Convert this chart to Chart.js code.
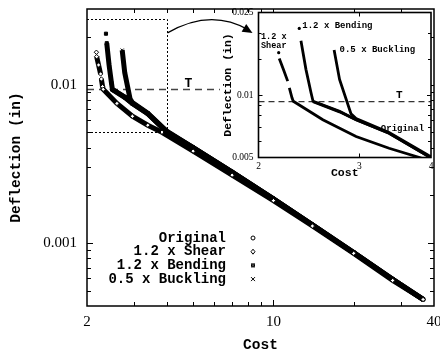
<!DOCTYPE html>
<html><head><meta charset="utf-8">
<script src="https://cdn.jsdelivr.net/npm/chart.js@4.4.1/dist/chart.umd.min.js"></script>
<style>
html,body{margin:0;padding:0;background:#fff;}
#wrap{position:relative;width:440px;height:354px;overflow:hidden;}
#main{position:absolute;left:0;top:0;}
#inset{position:absolute;left:214px;top:0;}
</style></head><body>
<div id="wrap"><canvas id="main" width="440" height="354"></canvas><canvas id="inset" width="222" height="185"></canvas></div>
<script>
// ---- data ----
const seriesLabels = ['Original', '1.2 x Shear', '1.2 x Bending', '0.5 x Buckling'];
const seriesStyles = ['circle', 'rectRot', 'rect', 'crossRot'];

const originalCost = [2.49, 2.77, 2.96, 3.38, 3.97, 5.0, 7.0, 10, 14, 20, 28, 36.4];
const originalDefl = [0.0093, 0.0083, 0.0076, 0.00655, 0.00505, 0.0040, 0.0028, 0.0019, 0.0013, 0.00087, 0.00059, 0.00044];

const shearCost = [2.169, 2.172, 2.174, 2.21, 2.249, 2.256, 2.264, 2.288, 2.300, 2.59, 2.96, 3.38, 3.82, 5.0, 7.0, 10, 14, 20, 28, 36.4];
const shearDefl = [0.0160, null, 0.0150, 0.0133, 0.01167, null, 0.01084, 0.0097, 0.00933, 0.0076, 0.00631, 0.00554, 0.0050, 0.0038, 0.00268, 0.00185, 0.00128, 0.00086, 0.00058, 0.00044];

const bendingCost = [2.356, 2.364, 2.372, 2.42, 2.47, 2.49, 2.77, 2.96, 3.38, 3.97, 5.0, 7.0, 10, 14, 20, 28, 36.4];
const bendingDefl = [0.02095, null, 0.01825, 0.0133, 0.01025, 0.00933, 0.00834, 0.0076, 0.00655, 0.00505, 0.0040, 0.0028, 0.0019, 0.0013, 0.00087, 0.00059, 0.00044];

const bucklingCost = [2.71, 2.77, 2.90, 2.96, 3.38, 3.97, 5.0, 7.0, 10, 14, 20, 28, 36.4];
const bucklingDefl = [0.0165, 0.0119, 0.00813, 0.0077, 0.0066, 0.0051, 0.0040, 0.0028, 0.0019, 0.0013, 0.00087, 0.00059, 0.00044];

const targetDefl = 0.0093;
const mainTCost = [2, 6.3];
const insetTCost = [2, 4];
const zoomBoxCost = [2, 4];
const zoomBoxDefl = [0.005, 0.026];

const mainXTicks = [2, 3, 4, 5, 6, 7, 8, 9, 10, 20, 30, 40];
const mainYTicks = [0.0004, 0.0005, 0.0006, 0.0007, 0.0008, 0.0009, 0.001, 0.002, 0.003, 0.004, 0.005, 0.006, 0.007, 0.008, 0.009, 0.01, 0.02, 0.03];
const mainXLabels = [2, 10, 40];
const mainYLabels = [0.001, 0.01];
const insetXTicks = [2, 3, 4];
const insetYTicks = [0.005, 0.006, 0.007, 0.008, 0.009, 0.01, 0.015, 0.02, 0.025];
const insetXLabels = [2, 3, 4];
const insetYLabels = [0.005, 0.01, 0.025];

// ---- helpers ----
const MONO = 'Liberation Mono, Courier New, monospace';
const SERIF = 'Liberation Serif, Times New Roman, serif';
function pts(costs, defls) { return costs.map((c, i) => ({x: c, y: defls[i]})); }
const seriesCosts = [originalCost, shearCost, bendingCost, bucklingCost];
const seriesDefls = [originalDefl, shearDefl, bendingDefl, bucklingDefl];
function noPadX(s, h) { s.height = h; s.paddingLeft = 0; s.paddingRight = 0; }
function noPadY(s, w) { s.width = w; s.paddingTop = 0; s.paddingBottom = 0; }

function drawSym(ctx, style, x, y, r) {
  ctx.save();
  ctx.strokeStyle = '#000'; ctx.lineWidth = 1;
  ctx.beginPath();
  if (style === 'circle') {
    ctx.arc(x, y, r, 0, Math.PI * 2); ctx.fillStyle = '#fff'; ctx.fill(); ctx.stroke();
  } else if (style === 'rectRot') {
    ctx.moveTo(x, y - r - 0.5); ctx.lineTo(x + r, y); ctx.lineTo(x, y + r + 0.5); ctx.lineTo(x - r, y); ctx.closePath();
    ctx.fillStyle = '#fff'; ctx.fill(); ctx.stroke();
  } else if (style === 'rect') {
    ctx.fillStyle = '#000'; ctx.fillRect(x - r, y - r, 2 * r, 2 * r);
    ctx.strokeStyle = '#888'; ctx.lineWidth = 0.6;
    ctx.moveTo(x - r + 0.5, y - r + 0.5); ctx.lineTo(x + r - 0.5, y + r - 0.5);
    ctx.moveTo(x + r - 0.5, y - r + 0.5); ctx.lineTo(x - r + 0.5, y + r - 0.5); ctx.stroke();
  } else {
    ctx.moveTo(x - r, y - r); ctx.lineTo(x + r, y + r); ctx.moveTo(x + r, y - r); ctx.lineTo(x - r, y + r); ctx.stroke();
  }
  ctx.restore();
}

function drawFrameTicks(chart, xMajor, yMajor, lenMaj, lenMin, lw) {
  const {ctx, chartArea: a, scales: {x, y}} = chart;
  ctx.save();
  ctx.strokeStyle = '#000';
  ctx.lineWidth = 1;
  ctx.beginPath();
  x.ticks.forEach(t => {
    const px = Math.round(x.getPixelForValue(t.value)) + 0.5;
    if (px < a.left + 2 || px > a.right - 2) return;
    const L = xMajor.includes(t.value) ? lenMaj : lenMin;
    ctx.moveTo(px, a.bottom); ctx.lineTo(px, a.bottom - L);
    ctx.moveTo(px, a.top); ctx.lineTo(px, a.top + L);
  });
  y.ticks.forEach(t => {
    const py = Math.round(y.getPixelForValue(t.value)) + 0.5;
    if (py < a.top + 2 || py > a.bottom - 2) return;
    const L = yMajor.includes(t.value) ? lenMaj : lenMin;
    ctx.moveTo(a.left, py); ctx.lineTo(a.left + L, py);
    ctx.moveTo(a.right, py); ctx.lineTo(a.right - L, py);
  });
  ctx.stroke();
  ctx.lineWidth = lw;
  ctx.strokeRect(a.left, a.top, a.right - a.left, a.bottom - a.top);
  ctx.restore();
}

// ---- main chart ----
function mainDatasets() {
  const order = [1, 2, 3, 0];
  const ds = order.map(i => ({
    label: seriesLabels[i],
    data: pts(seriesCosts[i], seriesDefls[i]),
    showLine: true,
    spanGaps: false,
    borderColor: '#000',
    borderWidth: 5,
    pointStyle: seriesStyles[i],
    pointRadius: 2.2,
    pointBorderWidth: 1,
    pointBorderColor: '#000',
    pointBackgroundColor: seriesStyles[i] === 'rect' ? '#000' : '#fff'
  }));
  ds.push({
    label: 'T',
    data: pts(mainTCost, mainTCost.map(() => targetDefl)),
    showLine: true, borderColor: '#444', borderWidth: 1.5, borderDash: [7, 5], pointRadius: 0
  });
  return ds;
}

const mainPlugin = {
  id: 'mainDecor',
  afterDraw(chart) {
    const {ctx, chartArea: a, scales: {x, y}} = chart;
    drawFrameTicks(chart, mainXLabels, mainYLabels, 6, 4, 1.5);
    // dotted zoom box
    ctx.save();
    ctx.strokeStyle = '#000'; ctx.lineWidth = 1; ctx.setLineDash([2, 2]);
    const x0 = x.getPixelForValue(zoomBoxCost[0]), x1 = Math.round(x.getPixelForValue(zoomBoxCost[1])) + 0.5;
    const y0 = Math.round(y.getPixelForValue(zoomBoxDefl[0])) + 0.5, y1 = Math.round(y.getPixelForValue(zoomBoxDefl[1])) + 0.5;
    ctx.beginPath();
    ctx.moveTo(x0, y1); ctx.lineTo(x1, y1); ctx.lineTo(x1, y0); ctx.lineTo(x0, y0);
    ctx.stroke();
    ctx.restore();
    // T label
    ctx.save();
    ctx.fillStyle = '#000';
    ctx.font = 'bold 13px ' + MONO;
    ctx.textAlign = 'center'; ctx.textBaseline = 'middle';
    ctx.fillText('T', x.getPixelForValue(4.8), y.getPixelForValue(targetDefl) - 6);
    ctx.restore();
    // curved arrow to the inset
    const sx = x1, sy = y.getPixelForValue(0.0212);
    const ex = sx + 85, ey = sy;
    const cx = sx + 43, cy = sy - 25;
    ctx.save();
    ctx.strokeStyle = '#000'; ctx.lineWidth = 1.2;
    ctx.beginPath(); ctx.moveTo(sx, sy); ctx.quadraticCurveTo(cx, cy, ex - 4, ey - 3); ctx.stroke();
    const ang = Math.atan2(ey - cy, ex - cx);
    ctx.fillStyle = '#000';
    ctx.beginPath();
    ctx.moveTo(ex, ey);
    ctx.lineTo(ex - 10 * Math.cos(ang) + 4.5 * Math.sin(ang), ey - 10 * Math.sin(ang) - 4.5 * Math.cos(ang));
    ctx.lineTo(ex - 10 * Math.cos(ang) - 4.5 * Math.sin(ang), ey - 10 * Math.sin(ang) + 4.5 * Math.cos(ang));
    ctx.closePath(); ctx.fill();
    ctx.restore();
    // legend
    ctx.save();
    ctx.fillStyle = '#000';
    ctx.font = 'bold 14px ' + MONO;
    ctx.textAlign = 'right'; ctx.textBaseline = 'middle';
    seriesLabels.forEach((lab, i) => {
      const ly = a.top + 229 + i * 13.7;
      ctx.fillText(lab, a.left + 139, ly);
      drawSym(ctx, seriesStyles[i], a.left + 166, ly, 2);
    });
    ctx.restore();
  }
};

new Chart(document.getElementById('main'), {
  type: 'scatter',
  data: {datasets: mainDatasets()},
  options: {
    responsive: false, animation: false, devicePixelRatio: 1,
    layout: {padding: {left: 0, right: 6, top: 9, bottom: 0}},
    plugins: {legend: {display: false}, tooltip: {enabled: false}},
    scales: {
      x: {
        type: 'logarithmic', min: 2, max: 40,
        afterBuildTicks: s => { s.ticks = mainXTicks.map(v => ({value: v})); },
        afterFit: s => noPadX(s, 48),
        grid: {display: false, drawTicks: false}, border: {display: false},
        ticks: {autoSkip: false, maxRotation: 0, padding: 7, color: '#000',
          font: {family: SERIF, size: 15},
          callback: v => mainXLabels.includes(v) ? String(v) : ''},
        title: {display: true, text: 'Cost', color: '#000',
          font: {family: MONO, size: 14.5, weight: 'bold'}, padding: {top: 0, bottom: 0}}
      },
      y: {
        type: 'logarithmic', min: 0.0004, max: 0.03,
        afterBuildTicks: s => { s.ticks = mainYTicks.map(v => ({value: v})); },
        afterFit: s => noPadY(s, 87),
        grid: {display: false, drawTicks: false}, border: {display: false},
        ticks: {autoSkip: false, padding: 10, color: '#000',
          font: {family: SERIF, size: 15},
          callback: v => mainYLabels.includes(v) ? String(v) : ''},
        title: {display: true, text: 'Deflection (in)', color: '#000',
          font: {family: MONO, size: 14.5, weight: 'bold'}, padding: {top: 8, bottom: 0}}
      }
    }
  },
  plugins: [mainPlugin]
});

// ---- inset chart ----
function insetDatasets() {
  const order = [1, 2, 3, 0];
  const ds = order.map(i => {
    const d = seriesDefls[i];
    return {
      label: seriesLabels[i],
      data: pts(seriesCosts[i], d),
      showLine: true, spanGaps: false,
      borderColor: '#000', borderWidth: 2.8,
      pointStyle: 'circle',
      pointRadius: c => {
        const k = c.dataIndex;
        const prev = k === 0 ? null : d[k - 1];
        const next = k === d.length - 1 ? null : d[k + 1];
        return (prev === null && next === null && d[k] !== null) ? 1.6 : 0;
      },
      pointBackgroundColor: '#000', pointBorderWidth: 0
    };
  });
  ds.push({
    label: 'T',
    data: pts(insetTCost, insetTCost.map(() => targetDefl)),
    showLine: true, borderColor: '#333', borderWidth: 1.4, borderDash: [6, 4], pointRadius: 0
  });
  return ds;
}

const insetPlugin = {
  id: 'insetDecor',
  beforeDatasetsDraw(chart) {
    const {ctx, chartArea: a} = chart;
    ctx.save(); ctx.fillStyle = '#fff';
    ctx.fillRect(a.left, a.top, a.right - a.left, a.bottom - a.top);
    ctx.restore();
  },
  afterDraw(chart) {
    const {ctx, scales: {x, y}} = chart;
    drawFrameTicks(chart, insetXLabels, insetYLabels, 4, 3, 1.6);
    const notes = [
      {t: '1.2 x', x: 2.02, y: 0.0190, s: 8.5},
      {t: 'Shear', x: 2.02, y: 0.0172, s: 8.5},
      {t: '1.2 x Bending', x: 2.385, y: 0.0215, s: 9},
      {t: '0.5 x Buckling', x: 2.77, y: 0.0166, s: 9},
      {t: 'Original', x: 3.27, y: 0.00688, s: 9}
    ];
    ctx.save();
    ctx.fillStyle = '#000'; ctx.textAlign = 'left'; ctx.textBaseline = 'middle';
    notes.forEach(n => {
      ctx.font = 'bold ' + n.s + 'px ' + MONO;
      ctx.fillText(n.t, x.getPixelForValue(n.x), y.getPixelForValue(n.y));
    });
    ctx.font = 'bold 11px ' + MONO; ctx.textAlign = 'center';
    ctx.fillText('T', x.getPixelForValue(3.52), y.getPixelForValue(targetDefl) - 6);
    ctx.restore();
  }
};

new Chart(document.getElementById('inset'), {
  type: 'scatter',
  data: {datasets: insetDatasets()},
  options: {
    responsive: false, animation: false, devicePixelRatio: 1,
    layout: {padding: {left: 0, right: 5, top: 12.5, bottom: 0}},
    plugins: {legend: {display: false}, tooltip: {enabled: false}},
    scales: {
      x: {
        type: 'logarithmic', min: 2, max: 4,
        afterBuildTicks: s => { s.ticks = insetXTicks.map(v => ({value: v})); },
        afterFit: s => noPadX(s, 27.5),
        grid: {display: false, drawTicks: false}, border: {display: false},
        ticks: {autoSkip: false, maxRotation: 0, padding: 3, color: '#000',
          font: {family: SERIF, size: 9.5},
          callback: v => insetXLabels.includes(v) ? String(v) : ''},
        title: {display: true, text: 'Cost', color: '#000',
          font: {family: MONO, size: 11.5, weight: 'bold'}, padding: {top: 0, bottom: 5}}
      },
      y: {
        type: 'logarithmic', min: 0.005, max: 0.025,
        afterBuildTicks: s => { s.ticks = insetYTicks.map(v => ({value: v})); },
        afterFit: s => noPadY(s, 44.5),
        grid: {display: false, drawTicks: false}, border: {display: false},
        ticks: {autoSkip: false, padding: 5, color: '#000',
          font: {family: SERIF, size: 9.5},
          callback: v => insetYLabels.includes(v) ? String(v) : ''},
        title: {display: true, text: 'Deflection (in)', color: '#000',
          font: {family: MONO, size: 11.5, weight: 'bold'}, padding: {top: 7, bottom: 0}}
      }
    }
  },
  plugins: [insetPlugin]
});
</script>
</body></html>
